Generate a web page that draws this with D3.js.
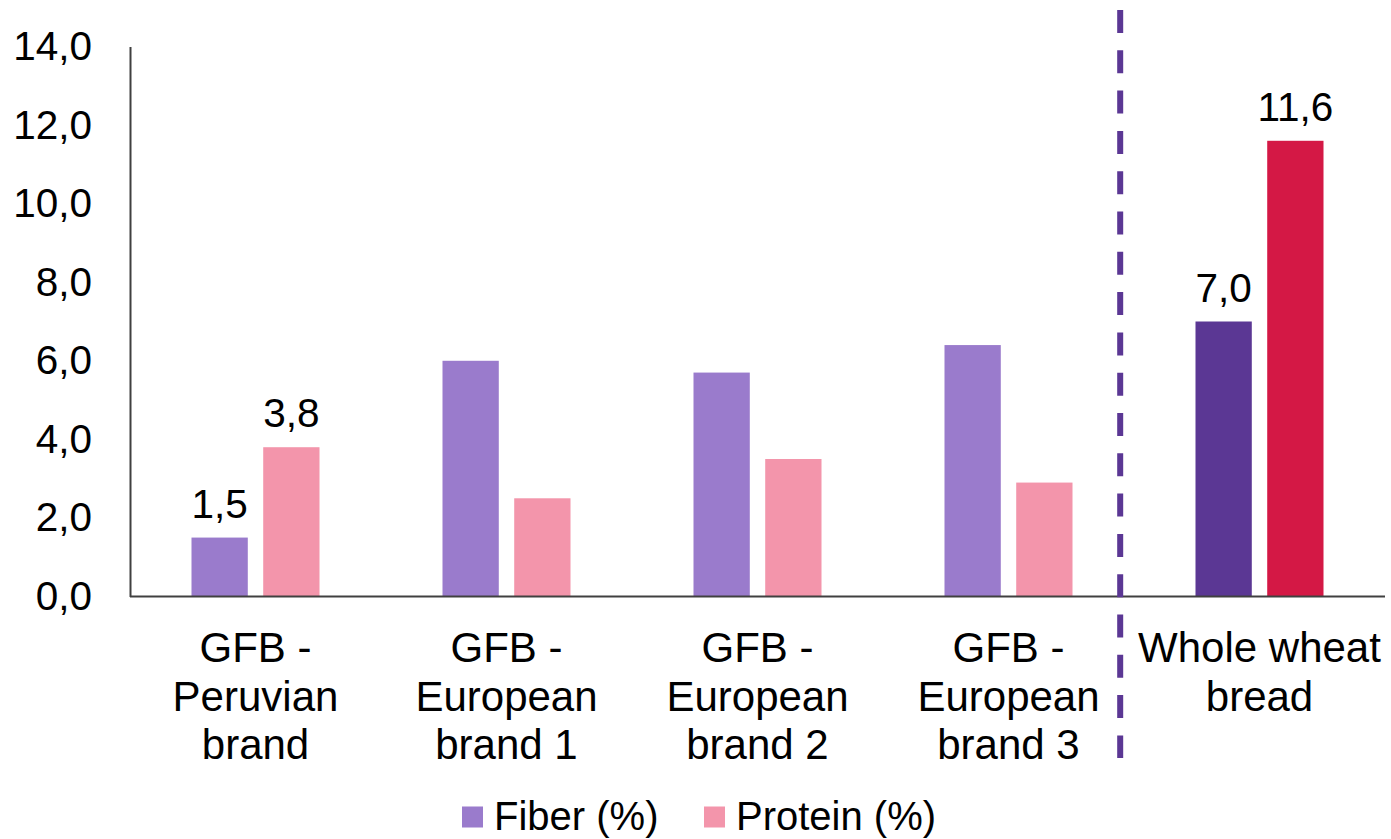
<!DOCTYPE html>
<html>
<head>
<meta charset="utf-8">
<script src="https://cdn.jsdelivr.net/npm/d3@7"></script>
<style>
  html, body { margin: 0; padding: 0; background: #fff; }
  svg { display: block; font-family: "Liberation Sans", Arial, sans-serif; }
</style>
</head>
<body>
<svg id="chart" width="1391" height="839"></svg>
<script>
// Bread samples compared on the x axis (each entry is one wrapped label)
const categories = [
  ["GFB -", "Peruvian", "brand"],
  ["GFB -", "European", "brand 1"],
  ["GFB -", "European", "brand 2"],
  ["GFB -", "European", "brand 3"],
  ["Whole wheat", "bread"]
];
const seriesNames = ["Fiber (%)", "Protein (%)"];
const fiber   = [1.5, 6.0, 5.7, 6.4, 7.0];
const protein = [3.8, 2.5, 3.5, 2.9, 11.6];
// Which bars carry a value label
const labelled = [true, false, false, false, true];
const yTicks = [0, 2, 4, 6, 8, 10, 12, 14];

// Colours: gluten-free samples vs. the whole wheat reference
const lightColors = ["#9a7bcc", "#f395ab"];
const darkColors  = ["#5b3794", "#d41845"];

const svg = d3.select("#chart");
const margin = { left: 130, right: 6, top: 46.5, bottom: 242.5 };
const W = 1391, H = 839;

const keys = categories.map(c => c.join(" "));
const x0 = d3.scaleBand().domain(keys)
  .range([margin.left, W - margin.right])
  .paddingInner(0.49).paddingOuter(0.245);
const x1 = d3.scaleBand().domain(seriesNames)
  .range([0, x0.bandwidth()]).paddingInner(0.215);
const y = d3.scaleLinear().domain([0, 14]).range([H - margin.bottom, margin.top]);

const fmt = v => d3.format(".1f")(v).replace(".", ",");

// Y axis: labels only, plus the axis line
const yAxis = svg.append("g")
  .attr("transform", `translate(${margin.left},0)`)
  .call(d3.axisLeft(y).tickValues(yTicks).tickFormat(fmt).tickSize(0).tickPadding(38));
yAxis.select(".domain").attr("stroke", "#404040").attr("stroke-width", 2);
yAxis.selectAll("text")
  .attr("font-size", 40.5).attr("fill", "#000")
  .attr("font-family", "Liberation Sans, Arial, sans-serif");

// Bars
const rows = keys.map((k, i) => ({
  key: k, i,
  vals: [fiber[i], protein[i]]
}));
const isRef = i => i === keys.length - 1;

const groups = svg.append("g").selectAll("g").data(rows).join("g")
  .attr("transform", d => `translate(${x0(d.key)},0)`);

groups.selectAll("rect")
  .data(d => d.vals.map((v, j) => ({ v, j, i: d.i })))
  .join("rect")
  .attr("x", d => x1(seriesNames[d.j]))
  .attr("width", x1.bandwidth())
  .attr("y", d => y(d.v))
  .attr("height", d => y(0) - y(d.v))
  .attr("fill", d => (isRef(d.i) ? darkColors : lightColors)[d.j]);

// Value labels above selected bars
groups.selectAll("text.val")
  .data(d => labelled[d.i] ? d.vals.map((v, j) => ({ v, j })) : [])
  .join("text")
  .attr("class", "val")
  .attr("x", d => x1(seriesNames[d.j]) + x1.bandwidth() / 2)
  .attr("y", d => y(d.v) - 20)
  .attr("text-anchor", "middle")
  .attr("font-size", 40.5)
  .attr("fill", "#000")
  .text(d => fmt(d.v));

// X axis line
svg.append("line")
  .attr("x1", margin.left).attr("x2", W - margin.right)
  .attr("y1", y(0)).attr("y2", y(0))
  .attr("stroke", "#404040").attr("stroke-width", 2);

// Category labels (wrapped onto several lines)
const catLabels = svg.append("g").selectAll("text").data(categories).join("text")
  .attr("x", (d, i) => x0(keys[i]) + x0.bandwidth() / 2)
  .attr("y", y(0) + 65.5)
  .attr("text-anchor", "middle")
  .attr("font-size", 42)
  .attr("fill", "#000");
catLabels.selectAll("tspan").data(d => d).join("tspan")
  .attr("x", function () { return d3.select(this.parentNode).attr("x"); })
  .attr("dy", (d, i) => i === 0 ? 0 : 48.5)
  .text(d => d);

// Dashed separator between gluten-free samples and the reference bread
const sepX = x0(keys[keys.length - 1]) - 0.3 * x0.step();
svg.append("line")
  .attr("x1", sepX).attr("x2", sepX)
  .attr("y1", 10).attr("y2", 758)
  .attr("stroke", "#5b3794").attr("stroke-width", 6)
  .attr("stroke-dasharray", "23 17.3");

// Legend
const legend = svg.append("g").attr("transform", "translate(0,817)");
const legendX = [462, 704];
seriesNames.forEach((name, j) => {
  legend.append("rect")
    .attr("x", legendX[j]).attr("y", -10.5)
    .attr("width", 21).attr("height", 21)
    .attr("fill", lightColors[j]);
  legend.append("text")
    .attr("x", legendX[j] + 32).attr("y", 13)
    .attr("font-size", 40).attr("fill", "#000")
    .text(name);
});
</script>
</body>
</html>
